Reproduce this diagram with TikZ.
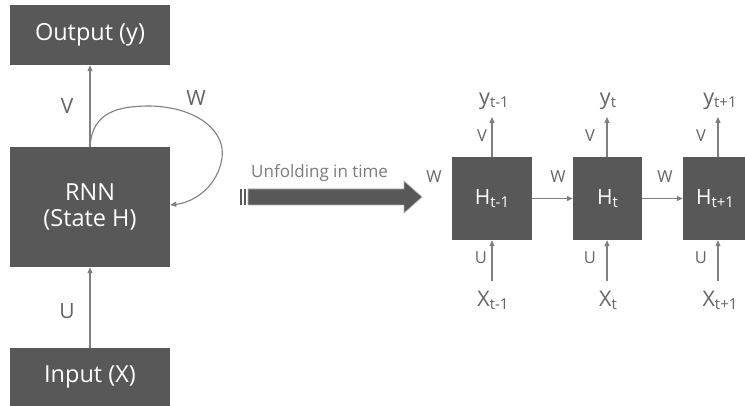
\documentclass[tikz,border=0pt]{standalone}
\usepackage{fontspec}
\setmainfont{Open Sans}
\usetikzlibrary{arrows.meta}
\definecolor{boxgray}{HTML}{585858}
\definecolor{linegray}{HTML}{7F7F7F}
\definecolor{labgray}{HTML}{646464}
\newcommand{\sub}[1]{\raisebox{-0.3ex}{\fontsize{15}{15}\selectfont #1}}
\newcommand{\ssub}[1]{\raisebox{-0.25ex}{\fontsize{15}{15}\selectfont #1}}
\tikzset{
  bigbox/.style={fill=boxgray, text=white, inner sep=0pt, align=center,
    font=\fontsize{23.5}{26}\selectfont},
  hbox/.style={fill=boxgray, text=white, inner sep=0pt,
    font=\fontsize{21}{21}\selectfont},
  conn/.style={draw=linegray, line width=1.1pt,
    -{Triangle[length=6pt,width=5pt]}},
  lab/.style={text=labgray, inner sep=0pt, font=\fontsize{21}{21}\selectfont},
  slab/.style={text=labgray, inner sep=0pt, font=\fontsize{16.5}{16.5}\selectfont},
  tlab/.style={text=labgray, inner sep=0pt, font=\fontsize{21.5}{21.5}\selectfont},
}
\begin{document}
\begin{tikzpicture}[x=1pt,y=-1pt]
\useasboundingbox[fill=white] (0,0) rectangle (745,406);
% left part
\node[bigbox, minimum width=160pt, minimum height=60pt] (out) at (90,35) {Output (y)};
\node[bigbox, minimum width=160pt, minimum height=120pt] (rnn) at (90,207) {RNN\\(State H)};
\node[bigbox, minimum width=160pt, minimum height=58pt] (in) at (90,377) {Input (X)};
\draw[conn] (rnn.north) -- (out.south);
\draw[conn] (in.north) -- (rnn.south);
\node[lab] (v0) at (67,106) {V};
\node[lab] (u0) at (67,311) {U};
\coordinate (loopend) at (rnn.east |- 0,205);
\draw[conn] (rnn.north) .. controls (92,112) and (118,106) .. (150,106)
  .. controls (198,107) and (226,132) .. (222,158)
  .. controls (218,185) and (196,202) .. (loopend);
\node[lab] (w0) at (196,98) {W};
% unfolding arrow
\node[text=labgray!85, inner sep=0pt, font=\fontsize{17}{17}\selectfont, anchor=west] (unf) at (251,173) {Unfolding in time};
\fill[boxgray, draw=gray!60, line width=0.6pt] (248,189) -- (404,189) -- (404,181) -- (422,197) -- (404,213) -- (404,205) -- (248,205) -- cycle;
\fill[boxgray] (240,189) rectangle (242,205);
\fill[boxgray] (244,189) rectangle (246,205);
% unrolled
\node[hbox, minimum width=80pt, minimum height=83pt] (h1) at (492,198.5) {H\sub{t-1}};
\node[hbox, minimum width=69pt, minimum height=83pt] (h2) at (607.5,198.5) {H\sub{t}};
\node[hbox, minimum width=64pt, minimum height=83pt] (h3) at (715,198.5) {H\sub{t+1}};
\draw[conn] (h1.east) -- (h2.west);
\draw[conn] (h2.east) -- (h3.west);
\node[slab] (w1) at (434,177) {W};
\node[slab] (w2) at (558,177) {W};
\node[slab] (w3) at (665,177) {W};
% outputs
\node[tlab] (y1) at (494,101) {y\ssub{t-1}};
\node[tlab] (y2) at (608,101) {y\ssub{t}};
\node[tlab] (y3) at (720,101) {y\ssub{t+1}};
\coordinate (y1a) at (492,117);
\coordinate (y2a) at (607,117);
\coordinate (y3a) at (718,117);
\draw[conn] (h1.north -| y1a) -- (y1a);
\draw[conn] (h2.north -| y2a) -- (y2a);
\draw[conn] (h3.north -| y3a) -- (y3a);
\node[slab] (v1) at (482,136) {V};
\node[slab] (v2) at (590,136) {V};
\node[slab] (v3) at (701,136) {V};
% inputs
\node[tlab] (x1) at (493,300) {X\ssub{t-1}};
\node[tlab] (x2) at (608,300) {X\ssub{t}};
\node[tlab] (x3) at (720,300) {X\ssub{t+1}};
\coordinate (x1a) at (492,281);
\coordinate (x2a) at (607,281);
\coordinate (x3a) at (718,281);
\draw[conn] (x1a) -- (h1.south -| x1a);
\draw[conn] (x2a) -- (h2.south -| x2a);
\draw[conn] (x3a) -- (h3.south -| x3a);
\node[slab] (u1) at (481,258) {U};
\node[slab] (u2) at (590,258) {U};
\node[slab] (u3) at (701,258) {U};
\end{tikzpicture}
\end{document}
